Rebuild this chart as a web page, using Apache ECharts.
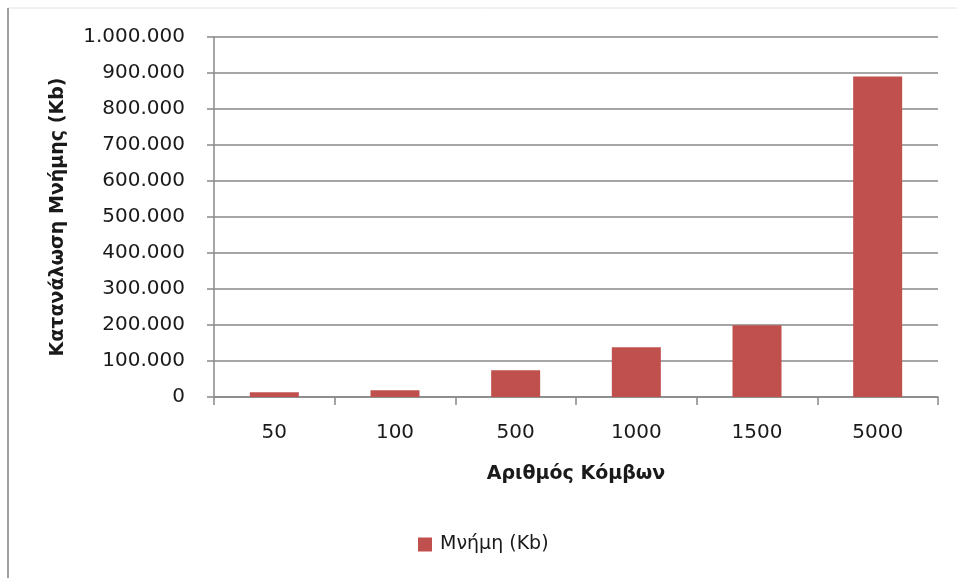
<!DOCTYPE html>
<html>
<head>
<meta charset="utf-8">
<script src="https://cdn.jsdelivr.net/npm/echarts@6/dist/echarts.min.js"></script>
<style>
html,body{margin:0;padding:0;background:#fff;}
#chart{width:957px;height:578px;}
</style>
</head>
<body>
<div id="chart"></div>
<script>
const categories = ['50', '100', '500', '1000', '1500', '5000'];
const memoryKb = [13000, 19000, 74000, 138000, 199000, 890000];
const seriesName = 'Μνήμη (Kb)';
const xTitle = 'Αριθμός Κόμβων';
const yTitle = 'Κατανάλωση Μνήμης (Kb)';

function fmt(v) {
  return String(Math.round(v)).replace(/\B(?=(\d{3})+(?!\d))/g, '.');
}

const chart = echarts.init(document.getElementById('chart'), null, {renderer: 'canvas'});
const font = 'DejaVu Sans';
chart.setOption({
  backgroundColor: '#ffffff',
  animation: false,
  textStyle: {fontFamily: font},
  graphic: [
    {type: 'line', shape: {x1: 8, y1: 8, x2: 957, y2: 8}, style: {stroke: '#e2e2e2', lineWidth: 1}},
    {type: 'line', shape: {x1: 8, y1: 8, x2: 8, y2: 578}, style: {stroke: '#a0a0a0', lineWidth: 2}}
  ],
  grid: {left: 214, right: 19, top: 37, bottom: 181, containLabel: false},
  legend: {
    left: 418, top: 535,
    padding: 0,
    itemWidth: 14, itemHeight: 14, itemGap: 10,
    icon: 'rect',
    textStyle: {fontFamily: font, fontSize: 19, color: '#1a1a1a', padding: [0, 0, 0, 3]},
    data: [seriesName]
  },
  xAxis: {
    type: 'category',
    data: categories,
    boundaryGap: true,
    name: xTitle,
    nameLocation: 'middle',
    nameGap: 68,
    nameTextStyle: {fontFamily: font, fontSize: 19, fontWeight: 'bold', color: '#1a1a1a'},
    axisLine: {lineStyle: {color: '#888888', width: 1.5}},
    axisTick: {show: true, length: 8, alignWithLabel: false, lineStyle: {color: '#888888', width: 1.5}},
    axisLabel: {margin: 26, fontFamily: font, fontSize: 20, color: '#1a1a1a'}
  },
  yAxis: {
    type: 'value',
    min: 0, max: 1000000, interval: 100000,
    name: yTitle,
    nameLocation: 'middle',
    nameGap: 146,
    nameTextStyle: {fontFamily: font, fontSize: 19, fontWeight: 'bold', color: '#1a1a1a'},
    axisLine: {show: true, lineStyle: {color: '#888888', width: 1.5}},
    axisTick: {show: true, length: 7, lineStyle: {color: '#888888', width: 1.5}},
    splitLine: {show: true, lineStyle: {color: '#888888', width: 1.5}},
    axisLabel: {margin: 29, fontFamily: font, fontSize: 20, color: '#1a1a1a', formatter: fmt}
  },
  series: [{
    name: seriesName,
    type: 'bar',
    data: memoryKb,
    barWidth: 49,
    itemStyle: {color: '#C0504D'}
  }]
});
</script>
</body>
</html>
